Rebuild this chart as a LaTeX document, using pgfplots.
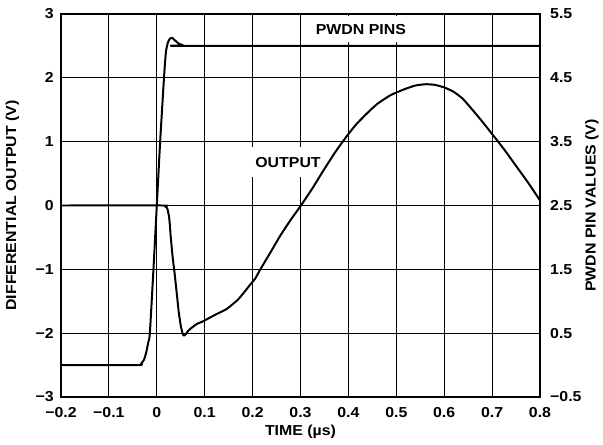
\documentclass[border=0pt]{standalone}
\usepackage{fontspec}
\setmainfont{Liberation Sans}[FakeStretch=1.1]
\usepackage{pgfplots}
\pgfplotsset{compat=1.18}

\newcommand{\lab}{\fontsize{14.5}{16}\selectfont\bfseries}

\pgfplotstableread{
x y
-0.2 0
0.012 0
0.017 -0.01
0.022 -0.05
0.026 -0.2
0.029 -0.48
0.033 -0.8
0.037 -1.05
0.042 -1.4
0.046 -1.68
0.050 -1.88
0.054 -2.01
0.057 -2.04
0.061 -2.01
0.066 -1.96
0.072 -1.92
0.077 -1.89
0.085 -1.85
0.095 -1.82
0.105 -1.78
0.125 -1.70
0.146 -1.62
0.17 -1.47
0.195 -1.24
0.205 -1.15
0.217 -0.99
0.24 -0.70
0.258 -0.47
0.28 -0.22
0.3 -0.01
0.325 0.27
0.348 0.55
0.372 0.83
0.395 1.07
0.415 1.26
0.437 1.43
0.46 1.59
0.486 1.72
0.5 1.77
0.52 1.83
0.54 1.88
0.562 1.90
0.58 1.89
0.6 1.85
0.62 1.78
0.639 1.67
0.66 1.49
0.68 1.31
0.7 1.12
0.725 0.88
0.75 0.62
0.775 0.36
0.8 0.08
}\output

\pgfplotstableread{
x y
-0.2 0
-0.04 0
-0.033 0.02
-0.027 0.08
-0.022 0.2
-0.018 0.35
-0.0145 0.5
-0.007 1.5
0 2.5
0.007 3.5
0.015 4.5
0.019 4.9
0.023 5.05
0.027 5.11
0.031 5.13
0.036 5.1
0.045 5.04
0.055 5.01
0.063 5.0
0.8 5.0
}\pwdn

\begin{document}
\begin{tikzpicture}
\pgfplotsset{
  base/.style={
    scale only axis, width=479bp, height=383bp,
    xmin=-0.2, xmax=0.8,
    major tick length=0pt,
    ticklabel style={font=\lab, inner sep=0pt},
    axis line style={line width=1.5pt},
  }
}
\begin{axis}[base,
  ymin=-3, ymax=3,
  xtick={-0.2,-0.1,0,0.1,0.2,0.3,0.4,0.5,0.6,0.7,0.8},
  xticklabels={−0.2,−0.1,0,0.1,0.2,0.3,0.4,0.5,0.6,0.7,0.8},
  ytick={-3,-2,-1,0,1,2,3},
  yticklabels={−3,−2,−1,0,1,2,3},
  xticklabel style={anchor=center, yshift=-16bp},
  yticklabel style={anchor=east, xshift=-7bp},
  grid=major,
  major grid style={black, line width=1pt},
]
\node[fill=white, font=\lab, inner xsep=3bp, inner ysep=9.5bp] at (axis cs:0.274,0.68) {OUTPUT};
\node[fill=white, font=\lab, inner xsep=5bp, inner ysep=8bp] at (axis cs:0.426,2.76) {PWDN PINS};
\addplot[black, line width=2pt, line join=round, smooth, tension=0.35] table[x=x, y=y] {\output};
\end{axis}
\begin{axis}[base,
  ymin=-0.5, ymax=5.5,
  axis x line=none,
  axis y line*=right,
  ytick={-0.5,0.5,1.5,2.5,3.5,4.5,5.5},
  yticklabels={−0.5,0.5,1.5,2.5,3.5,4.5,5.5},
  yticklabel style={anchor=west, xshift=10bp},
]
\addplot[black, line width=2pt, line join=round, smooth, tension=0.35] table[x=x, y=y] {\pwdn};
\end{axis}
\node[rotate=90, font=\lab] at (-48.5bp,191.5bp) {DIFFERENTIAL OUTPUT (V)};
\node[rotate=90, font=\lab] at (531bp,191.5bp) {PWDN PIN VALUES (V)};
\node[font=\lab] at (239.5bp,-35bp) {TIME (µs)};
\pgfresetboundingbox
\path (-61bp,-48bp) rectangle (542bp,397bp);
\end{tikzpicture}
\end{document}
